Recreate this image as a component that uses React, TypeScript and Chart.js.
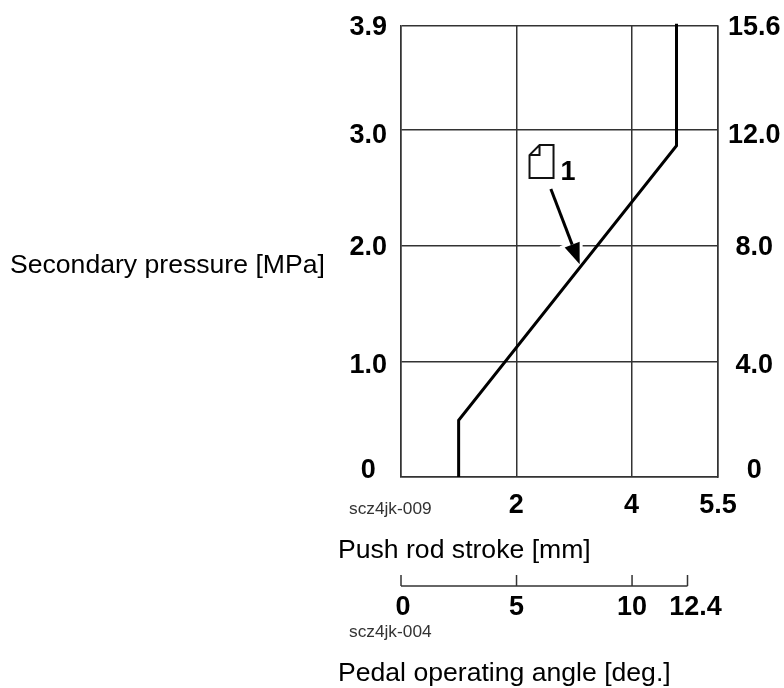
import React, { useEffect, useRef } from "react";
import { Chart, registerables } from "chart.js";

Chart.register(...registerables);

const strokeMm = [1.0, 1.0, 4.78, 4.78];
const pressureMpa = [0, 0.49, 2.865, 3.92];
const xTicks = [0, 2, 4, 5.5];
const yTicks = [0, 1, 2, 3, 3.9];
const yTickLabels = ["0", "1.0", "2.0", "3.0", "3.9"];
const y2Ticks = [0, 4, 8, 12, 15.6];
const y2TickLabels = ["0", "4.0", "8.0", "12.0", "15.6"];
const pedalTicks = [0, 5, 10, 12.4];
const pedalLabelShift = [2, 0, 0, 8];
const arrowFrom = { x: 2.6, y: 2.49 };
const arrowTo = { x: 3.1, y: 1.84 };
const noteAnchor = { x: 2.23, y: 2.87 };
// Vertical offset of each y tick label from its gridline, bottom to top
const labelNudge = [-6, 4, 2, 5, 2];

const SANS = '"Liberation Sans", Arial, sans-serif';
const TICK_SIZE = 27;
const TICK_FONT = { family: "Liberation Sans", size: TICK_SIZE, weight: "bold" as const };
const GRID = "#333333";
const GRID_W = 1.5;

// A blank extra line moves a label up or down by half the line height.
const tickFont = (c: any) => {
  const n = c.index === undefined ? 0 : labelNudge[c.index] ?? 0;
  return n === 0 ? TICK_FONT : { ...TICK_FONT, lineHeight: (2 * Math.abs(n)) / TICK_SIZE };
};
const nudged = (text: string, i: number) => {
  const n = labelNudge[i];
  return n > 0 ? ["", text] : n < 0 ? [text, ""] : text;
};

const arrowGeometry = (chart: any) => {
  const { x, y } = chart.scales;
  const x0 = x.getPixelForValue(arrowFrom.x);
  const y0 = y.getPixelForValue(arrowFrom.y);
  const x1 = x.getPixelForValue(arrowTo.x);
  const y1 = y.getPixelForValue(arrowTo.y);
  const a = Math.atan2(y1 - y0, x1 - x0);
  const len = 21;
  const hw = 8;
  const bx = x1 - Math.cos(a) * len;
  const by = y1 - Math.sin(a) * len;
  const nx = -Math.sin(a);
  const ny = Math.cos(a);
  return { x0, y0, x1, y1, bx, by, nx, ny, hw };
};

const extras = {
  id: "extras",
  beforeDatasetsDraw(chart: any) {
    const ctx = chart.ctx as CanvasRenderingContext2D;
    const g = arrowGeometry(chart);
    ctx.save();
    ctx.beginPath();
    ctx.moveTo(g.x1, g.y1);
    ctx.lineTo(g.bx + g.nx * g.hw, g.by + g.ny * g.hw);
    ctx.lineTo(g.bx - g.nx * g.hw, g.by - g.ny * g.hw);
    ctx.closePath();
    ctx.strokeStyle = "#fff";
    ctx.lineWidth = 6;
    ctx.stroke();
    ctx.restore();
  },
  afterDatasetsDraw(chart: any) {
    const ctx = chart.ctx as CanvasRenderingContext2D;
    const { x, y, x2 } = chart.scales;
    const g = arrowGeometry(chart);
    ctx.save();

    // leader arrow
    ctx.strokeStyle = "#000";
    ctx.lineWidth = 3;
    ctx.beginPath();
    ctx.moveTo(g.x0, g.y0);
    ctx.lineTo(g.bx, g.by);
    ctx.stroke();
    ctx.beginPath();
    ctx.moveTo(g.x1, g.y1);
    ctx.lineTo(g.bx + g.nx * g.hw, g.by + g.ny * g.hw);
    ctx.lineTo(g.bx - g.nx * g.hw, g.by - g.ny * g.hw);
    ctx.closePath();
    ctx.fillStyle = "#000";
    ctx.fill();

    // note icon and its number
    const ix = x.getPixelForValue(noteAnchor.x);
    const iy = y.getPixelForValue(noteAnchor.y);
    ctx.beginPath();
    ctx.moveTo(ix + 10, iy);
    ctx.lineTo(ix + 24, iy);
    ctx.lineTo(ix + 24, iy + 33);
    ctx.lineTo(ix, iy + 33);
    ctx.lineTo(ix, iy + 10);
    ctx.closePath();
    ctx.moveTo(ix + 10, iy);
    ctx.lineTo(ix + 10, iy + 10);
    ctx.lineTo(ix, iy + 10);
    ctx.strokeStyle = "#111";
    ctx.lineWidth = 2;
    ctx.stroke();
    ctx.fillStyle = "#000";
    ctx.font = `bold ${TICK_SIZE}px ${SANS}`;
    ctx.textAlign = "left";
    ctx.textBaseline = "alphabetic";
    ctx.fillText("1", ix + 31, iy + 35);

    // second horizontal scale: pedal operating angle
    const axisY = 586;
    const tickTop = 575;
    ctx.strokeStyle = GRID;
    ctx.lineWidth = GRID_W;
    ctx.beginPath();
    ctx.moveTo(x2.getPixelForValue(pedalTicks[0]), axisY);
    ctx.lineTo(x2.getPixelForValue(pedalTicks[pedalTicks.length - 1]), axisY);
    ctx.stroke();
    ctx.textAlign = "center";
    ctx.fillStyle = "#000";
    ctx.font = `bold ${TICK_SIZE}px ${SANS}`;
    pedalTicks.forEach((v, i) => {
      const px = x2.getPixelForValue(v);
      ctx.beginPath();
      ctx.moveTo(px, tickTop);
      ctx.lineTo(px, axisY);
      ctx.stroke();
      ctx.fillText(String(v), px + pedalLabelShift[i], 615);
    });

    // captions
    ctx.textAlign = "left";
    ctx.fillStyle = "#000";
    ctx.font = `26.6px ${SANS}`;
    ctx.fillText("Secondary pressure [MPa]", 10, 273);
    ctx.fillText("Push rod stroke [mm]", 338, 558);
    ctx.fillText("Pedal operating angle [deg.]", 338, 681);
    ctx.fillStyle = "#333";
    ctx.font = `17.3px ${SANS}`;
    ctx.fillText("scz4jk-009", 349, 514);
    ctx.fillText("scz4jk-004", 349, 637);
    ctx.restore();
  },
};

export default function App() {
  const ref = useRef<HTMLCanvasElement>(null);
  useEffect(() => {
    const chart = new Chart(ref.current!, {
      type: "line",
      data: {
        datasets: [
          {
            data: strokeMm.map((v, i) => ({ x: v, y: pressureMpa[i] })),
            borderColor: "#000",
            borderWidth: 3,
            pointRadius: 0,
            tension: 0,
            clip: false as any,
            xAxisID: "x",
            yAxisID: "y",
          },
        ],
      },
      plugins: [extras],
      options: {
        animation: false,
        responsive: false,
        layout: { padding: { top: 26, left: 0, right: 0, bottom: 0 } },
        plugins: { legend: { display: false }, tooltip: { enabled: false } },
        scales: {
          x: {
            type: "linear",
            position: "bottom",
            min: 0,
            max: 5.5,
            afterBuildTicks: (s: any) => {
              s.ticks = xTicks.map((value) => ({ value }));
            },
            afterFit: (s: any) => {
              s.height = 211;
              s.paddingLeft = 0;
              s.paddingRight = 0;
            },
            grid: { color: GRID, lineWidth: GRID_W, drawTicks: false },
            border: { color: GRID, width: GRID_W },
            ticks: {
              autoSkip: false,
              maxRotation: 0,
              padding: 12,
              color: "#000",
              font: TICK_FONT,
              callback: (v: any) => (v === 0 ? "" : String(v)),
            },
          },
          x2: { type: "linear", display: false, min: 0, max: 13.72 },
          y: {
            type: "linear",
            position: "left",
            min: 0,
            max: 3.9,
            afterBuildTicks: (s: any) => {
              s.ticks = yTicks.map((value) => ({ value }));
            },
            afterFit: (s: any) => {
              s.width = 401;
              s.paddingTop = 0;
              s.paddingBottom = 0;
            },
            grid: { color: GRID, lineWidth: GRID_W, drawTicks: false },
            border: { color: GRID, width: GRID_W },
            ticks: {
              autoSkip: false,
              padding: 14,
              crossAlign: "center",
              color: "#000",
              font: tickFont,
              callback: (v: any) => {
                const i = yTicks.indexOf(v);
                return nudged(yTickLabels[i], i);
              },
            },
          },
          y2: {
            type: "linear",
            position: "right",
            min: 0,
            max: 15.6,
            afterBuildTicks: (s: any) => {
              s.ticks = y2Ticks.map((value) => ({ value }));
            },
            afterFit: (s: any) => {
              s.width = 66;
              s.paddingTop = 0;
              s.paddingBottom = 0;
            },
            grid: { display: false, drawTicks: false },
            border: { color: GRID, width: GRID_W },
            ticks: {
              autoSkip: false,
              padding: 10,
              crossAlign: "center",
              color: "#000",
              font: tickFont,
              callback: (v: any) => {
                const i = y2Ticks.indexOf(v);
                return nudged(y2TickLabels[i], i);
              },
            },
          },
        },
      } as any,
    });
    return () => chart.destroy();
  }, []);
  return (
    <div style={{ position: "fixed", left: 0, top: 0, width: 784, height: 688, background: "#fff" }}>
      <canvas ref={ref} width={784} height={688} style={{ display: "block" }} />
    </div>
  );
}
